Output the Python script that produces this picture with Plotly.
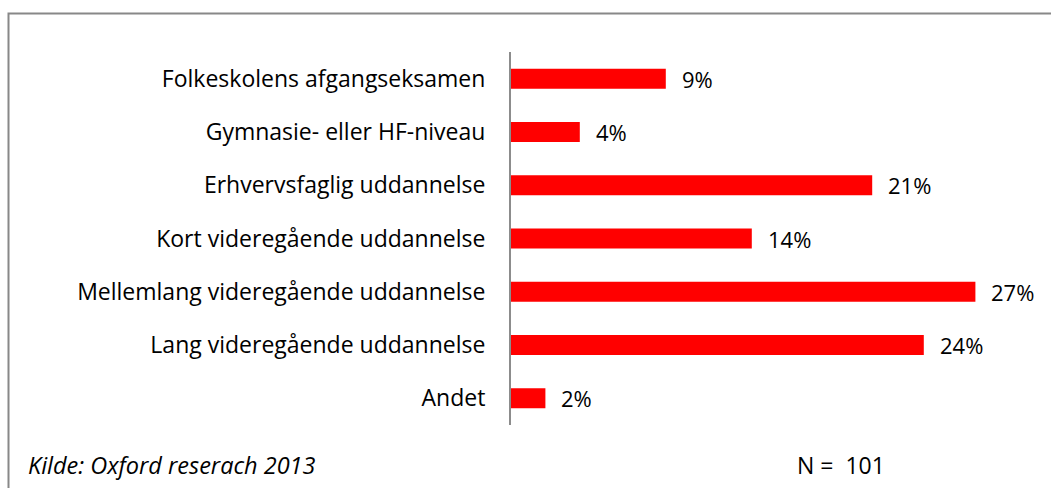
import plotly.graph_objects as go

categories = [
    "Folkeskolens afgangseksamen",
    "Gymnasie- eller HF-niveau",
    "Erhvervsfaglig uddannelse",
    "Kort videregående uddannelse",
    "Mellemlang videregående uddannelse",
    "Lang videregående uddannelse",
    "Andet",
]
values = [9, 4, 21, 14, 27, 24, 2]
value_labels = ["9%", "4%", "21%", "14%", "27%", "24%", "2%"]
source_text = "Kilde: Oxford reserach 2013"
n_text = "N =  101"

W, H = 1051, 488
ML, MR, MT, MB = 511, 24, 52, 63
PW = W - ML - MR
PH = H - MT - MB

def px_x(px):
    return (px - ML) / PW

def px_y(py):
    return (H - MB - py) / PH

FONT = "Open Sans"

fig = go.Figure()
fig.add_trace(go.Bar(
    x=values, y=categories, orientation="h",
    marker=dict(color="#FF0000", line=dict(width=0)),
    hoverinfo="skip",
))

for v, c, t in zip(values, categories, value_labels):
    fig.add_annotation(x=v, y=c, text=t, showarrow=False, xanchor="left",
                       xshift=14, font=dict(family=FONT, size=22, color="#000000"))

fig.add_annotation(x=px_x(26), y=px_y(465), xref="paper", yref="paper",
                   text="<i>" + source_text + "</i>", showarrow=False,
                   xanchor="left", yanchor="middle",
                   font=dict(family=FONT, size=23.5, color="#000000"))
fig.add_annotation(x=px_x(795), y=px_y(465), xref="paper", yref="paper",
                   text=n_text, showarrow=False,
                   xanchor="left", yanchor="middle",
                   font=dict(family=FONT, size=23, color="#000000"))

fig.add_shape(type="rect", xref="paper", yref="paper",
              x0=px_x(8.5), x1=px_x(1060), y0=px_y(500), y1=px_y(13.5),
              line=dict(color="#888888", width=2), fillcolor="rgba(0,0,0,0)")

fig.update_layout(
    width=W, height=H,
    margin=dict(l=ML, r=MR, t=MT, b=MB, pad=0),
    paper_bgcolor="white", plot_bgcolor="white",
    showlegend=False,
    bargap=0.625,
    font=dict(family=FONT, size=23, color="#000000"),
    xaxis=dict(range=[0, 30], visible=False, fixedrange=True),
    yaxis=dict(autorange="reversed", showline=True, linecolor="#8c8c8c",
               linewidth=2, showgrid=False, zeroline=False, ticks="",
               ticklabelstandoff=19, tickfont=dict(family=FONT, size=23),
               fixedrange=True),
)

fig.write_html("out.html", config={"displayModeBar": False})

with open("out.html", "r", encoding="utf-8") as f:
    html = f.read()
html = html.replace("<head>", "<head><style>html,body{margin:0;padding:0;overflow:hidden;}</style>", 1)
with open("out.html", "w", encoding="utf-8") as f:
    f.write(html)
